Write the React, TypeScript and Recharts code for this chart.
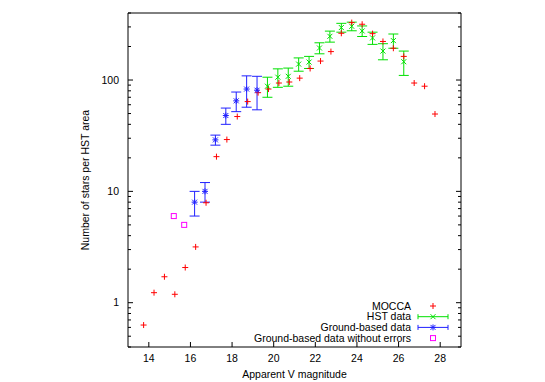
import React from 'react';
import {
  ScatterChart,
  Scatter,
  XAxis,
  YAxis,
  ErrorBar,
  Legend,
} from 'recharts';

// MOCCA model counts
const moccaMag = [
  13.75, 14.25, 14.75, 15.25, 15.75, 16.25, 16.75, 17.25, 17.75, 18.25,
  18.75, 19.25, 19.75, 20.25, 20.75, 21.25, 21.75, 22.25, 22.75, 23.25,
  23.75, 24.25, 24.75, 25.25, 25.75, 26.25, 26.75, 27.25, 27.75,
];
const moccaCount = [
  0.63, 1.23, 1.71, 1.19, 2.07, 3.17, 7.9, 20.5, 29.2, 47,
  64, 77, 83, 94, 96, 104, 127, 148, 180, 263,
  328, 317, 261, 222, 193, 163, 94, 88, 49.5,
];

// HST observations
const hstMag = [
  19.7, 20.2, 20.7, 21.2, 21.7, 22.2, 22.7, 23.25, 23.75, 24.25, 24.75,
  25.25, 25.75, 26.25,
];
const hstCount = [88, 106, 108, 139, 145, 194, 247, 296, 304, 276, 239, 182, 226, 146];
const hstErr = [18, 20, 20, 19, 18, 22, 28, 27, 27, 30, 30, 30, 33, 36];

// ground-based observations
const groundMag = [16.2, 16.7, 17.2, 17.7, 18.2, 18.7, 19.2];
const groundCount = [8, 10, 29, 48, 65, 83, 81];
const groundErr = [2, 2, 3, 8, 13, 26, 27];

const plainMag = [15.2, 15.7];
const plainCount = [6, 5];

const seriesNames = ['MOCCA', 'HST data', 'Ground-based data', 'Ground-based data without errors'];

const xTicks = [14, 16, 18, 20, 22, 24, 26, 28];
const yMajor = [1, 10, 100];
const yTicks = [
  0.4, 0.5, 0.6, 0.7, 0.8, 0.9, 1, 2, 3, 4, 5, 6, 7, 8, 9, 10,
  20, 30, 40, 50, 60, 70, 80, 90, 100, 200, 300, 400,
];

const FONT = '"Liberation Sans", Arial, sans-serif';
const RED = '#ff0000';
const GREEN = '#00e000';
const BLUE = '#2020ff';
const MAGENTA = '#ff00ff';

const moccaData = moccaMag.map((mag, i) => ({ mag, count: moccaCount[i] }));
const hstData = hstMag.map((mag, i) => ({ mag, count: hstCount[i], err: hstErr[i] }));
const groundData = groundMag.map((mag, i) => ({
  mag,
  count: groundCount[i],
  err: groundErr[i],
}));
const plainData = plainMag.map((mag, i) => ({ mag, count: plainCount[i] }));

function marker(kind: string, cx: number, cy: number) {
  const s = 3;
  if (kind === 'plus')
    return <path d={`M${cx - s},${cy}h${2 * s}M${cx},${cy - s}v${2 * s}`} stroke={RED} fill="none" />;
  if (kind === 'cross')
    return (
      <path
        d={`M${cx - 2.5},${cy - 2.5}l5,5M${cx - 2.5},${cy + 2.5}l5,-5`}
        stroke={GREEN}
        fill="none"
      />
    );
  if (kind === 'star')
    return (
      <path
        d={`M${cx - 3},${cy}h6M${cx},${cy - 3}v6M${cx - 2.5},${cy - 2.5}l5,5M${cx - 2.5},${cy + 2.5}l5,-5`}
        stroke={BLUE}
        fill="none"
      />
    );
  return <rect x={cx - 2.5} y={cy - 2.5} width={5} height={5} stroke={MAGENTA} fill="none" />;
}

const kindOf: Record<string, string> = {
  MOCCA: 'plus',
  'HST data': 'cross',
  'Ground-based data': 'star',
  'Ground-based data without errors': 'square',
};

function XTick(props: any) {
  const { x, y, payload, side } = props;
  const dir = side === 'bottom' ? -1 : 1;
  return (
    <g>
      <line x1={x} x2={x} y1={y} y2={y + dir * 5} stroke="#000" />
      {side === 'bottom' && (
        <text x={x} y={y + 15} textAnchor="middle" fontSize={10.5} fontFamily={FONT} fill="#000">
          {payload.value}
        </text>
      )}
    </g>
  );
}

function YTick(props: any) {
  const { x, y, payload, side } = props;
  const major = yMajor.includes(payload.value);
  const len = major ? 5 : 3;
  const dir = side === 'left' ? 1 : -1;
  return (
    <g>
      <line x1={x} x2={x + dir * len} y1={y} y2={y} stroke="#000" />
      {side === 'left' && major && (
        <text x={x - 9} y={y + 3.7} textAnchor="end" fontSize={10.5} fontFamily={FONT} fill="#000">
          {payload.value}
        </text>
      )}
    </g>
  );
}

function KeyBox({ payload }: any) {
  const items = [...(payload || [])].sort(
    (a: any, b: any) => seriesNames.indexOf(a.value) - seriesNames.indexOf(b.value),
  );
  return (
    <svg width={230} height={48} style={{ display: 'block' }}>
      {items.map((item: any, i: number) => {
        const cy = 8 + i * 10.7;
        const kind = kindOf[item.value];
        const color = item.color;
        return (
          <g key={item.value}>
            <text x={171} y={cy + 3.7} textAnchor="end" fontSize={10.5} fontFamily={FONT} fill="#000">
              {item.value}
            </text>
            {(kind === 'cross' || kind === 'star') && (
              <path
                d={`M178,${cy}H208M178,${cy - 2.5}v5M208,${cy - 2.5}v5`}
                stroke={color}
                fill="none"
              />
            )}
            {marker(kind, 193, cy)}
          </g>
        );
      })}
    </svg>
  );
}

export default function App() {
  return (
    <div style={{ position: 'absolute', left: 0, top: 0 }}>
      <ScatterChart
        width={545}
        height={382}
        margin={{ top: 12, right: 83, bottom: 0, left: 0 }}
      >
        <XAxis
          type="number"
          dataKey="mag"
          domain={[13, 29]}
          ticks={xTicks}
          interval={0}
          height={35}
          tickSize={0}
          tickMargin={0}
          tickLine={false}
          stroke="#000"
          tick={(p: any) => <XTick {...p} side="bottom" />}
          label={{
            content: (p: any) => {
              const vb = p.viewBox;
              return (
                <text
                  x={vb.x + vb.width / 2}
                  y={vb.y + 31}
                  textAnchor="middle"
                  fontSize={10.5}
                  fontFamily={FONT}
                  fill="#000"
                >
                  Apparent V magnitude
                </text>
              );
            },
          }}
        />
        <XAxis
          xAxisId="top"
          orientation="top"
          type="number"
          domain={[13, 29]}
          ticks={xTicks}
          interval={0}
          height={1}
          tickSize={0}
          tickMargin={0}
          tickLine={false}
          stroke="#000"
          tick={(p: any) => <XTick {...p} side="top" />}
        />
        <YAxis
          type="number"
          dataKey="count"
          scale="log"
          domain={[0.4, 400]}
          allowDataOverflow
          ticks={yTicks}
          interval={0}
          width={128}
          tickSize={0}
          tickMargin={0}
          tickLine={false}
          stroke="#000"
          tick={(p: any) => <YTick {...p} side="left" />}
          label={{
            content: (p: any) => {
              const vb = p.viewBox;
              const cx = vb.x + 89;
              const cy = vb.y + vb.height / 2;
              return (
                <text
                  x={cx}
                  y={cy}
                  transform={`rotate(-90, ${cx}, ${cy})`}
                  textAnchor="middle"
                  fontSize={10.5}
                  fontFamily={FONT}
                  fill="#000"
                >
                  Number of stars per HST area
                </text>
              );
            },
          }}
        />
        <YAxis
          yAxisId="right"
          orientation="right"
          type="number"
          scale="log"
          domain={[0.4, 400]}
          allowDataOverflow
          ticks={yTicks}
          interval={0}
          width={1}
          tickSize={0}
          tickMargin={0}
          tickLine={false}
          stroke="#000"
          tick={(p: any) => <YTick {...p} side="right" />}
        />
        <Legend
          layout="vertical"
          align="center"
          verticalAlign="middle"
          content={KeyBox}
          wrapperStyle={{ left: 240, top: 298, width: 230, height: 48 }}
        />
        <Scatter
          name="MOCCA"
          data={moccaData}
          fill={RED}
          isAnimationActive={false}
          shape={(p: any) => marker('plus', p.cx, p.cy)}
        />
        <Scatter
          name="HST data"
          data={hstData}
          fill={GREEN}
          isAnimationActive={false}
          shape={(p: any) => marker('cross', p.cx, p.cy)}
        >
          <ErrorBar dataKey="err" direction="y" width={5} stroke={GREEN} strokeWidth={1} />
        </Scatter>
        <Scatter
          name="Ground-based data"
          data={groundData}
          fill={BLUE}
          isAnimationActive={false}
          shape={(p: any) => marker('star', p.cx, p.cy)}
        >
          <ErrorBar dataKey="err" direction="y" width={5} stroke={BLUE} strokeWidth={1} />
        </Scatter>
        <Scatter
          name="Ground-based data without errors"
          data={plainData}
          fill={MAGENTA}
          isAnimationActive={false}
          shape={(p: any) => marker('square', p.cx, p.cy)}
        />
      </ScatterChart>
    </div>
  );
}
